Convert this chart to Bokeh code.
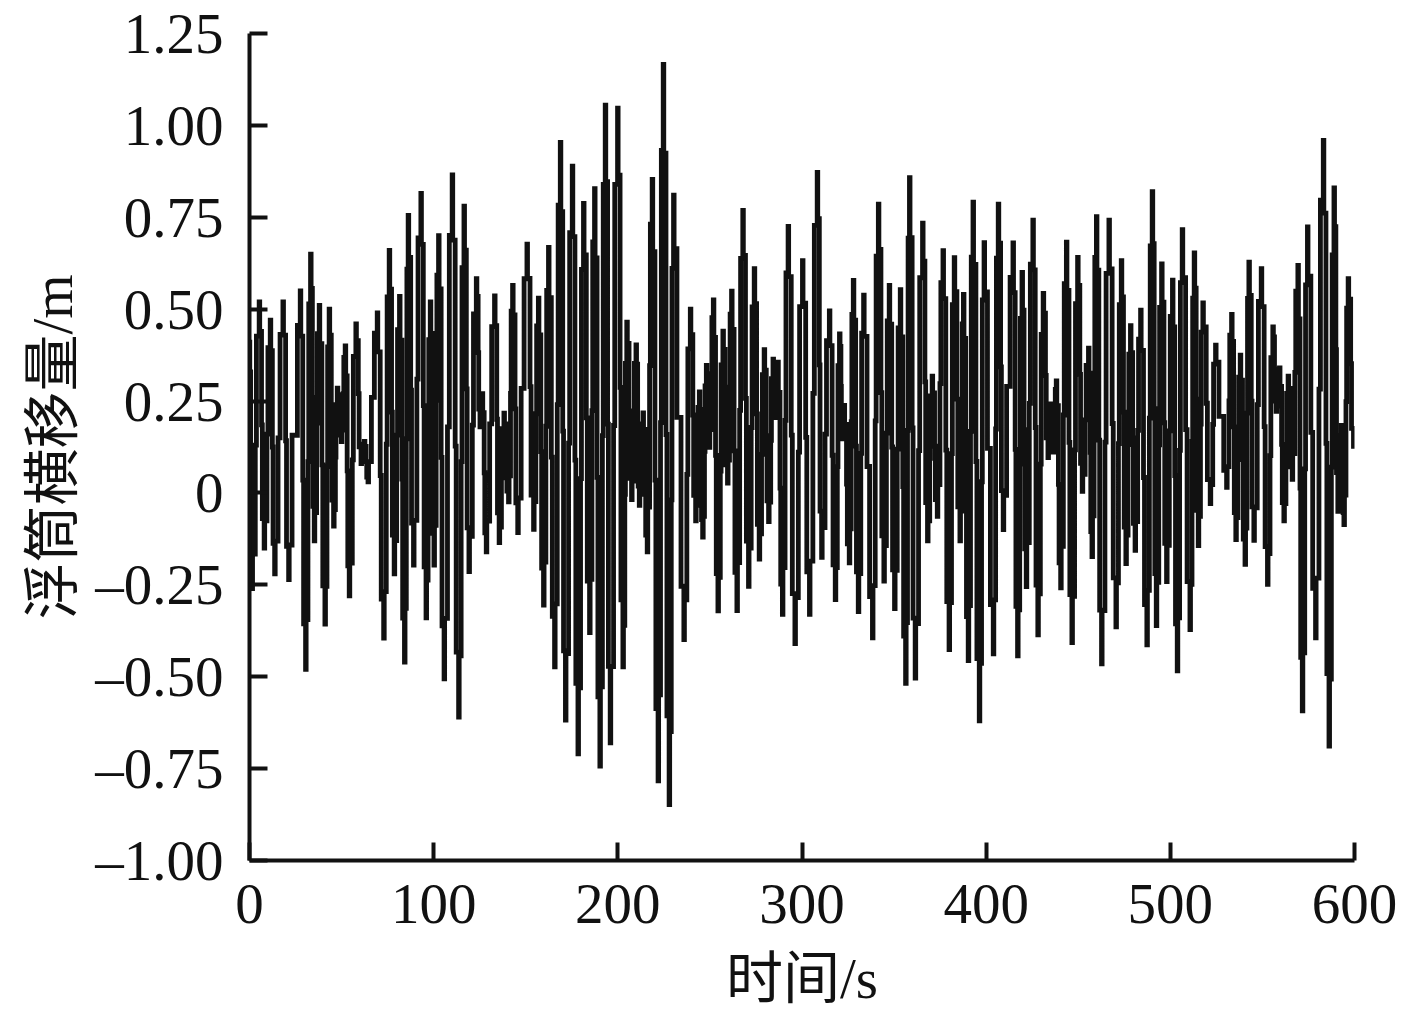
from bokeh.plotting import figure
from bokeh.models import FixedTicker
from bokeh.embed import file_html
from bokeh.resources import INLINE

# Alternating extremes of the curve
time_s = [0,1.5,5.4,8.1,11.4,13.8,18.3,21.4,27.7,30.6,33.3,35.3,38,41.1,43.4,45.8,47.8,50,52.1,54.3,57.9,60.7,62.5,64.5,69.5,
 73,76,78.7,81.6,84.3,86.3,89.2,93.2,96,98.3,100.3,102.8,105.8,110.2,113.7,116.6,119.3,123.3,125.3,126.5,128.7,133.2,135.7,138.3,140.8,143,145.8,
 150.8,154.4,157,159.8,162.5,165.8,168.9,171.7,175.4,178.5,181.5,184.8,187.5,190.4,193.3,196,200,202.9,205,207.6,210,211.8,213.8,216.1,218.8,222,224.8,228,230.4,236,
 239.5,242.4,244.4,246.2,248.2,249.8,252,254.5,257.2,259.7,261.9,264.8,268,271.1,274.2,276.9,279.6,282,284.4,285.6,287,289.5,292.6,
 296.3,300.4,304.2,308.4,310.8,315,318.2,320.5,322,323,325.8,328,330.7,333.6,338.4,341.6,344.6,347.5,350.4,353.5,356.4,358.5,361.6,365.6,368.3,370.8,373.6,376.7,380,382.8,385.9,387.8,390.4,393,396.4,399,404,406.7,409.4,414.7,417.2,419.6,421.9,425.5,428.2,431.1,433.7,435,436.6,438.2,440.6,443.7,
 446.7,449.8,452.3,455.7,457.6,460,462.8,466.8,470.6,473.5,476,478.5,481,484,487.4,490.3,492.5,495.4,498.1,501.3,503.9,506.6,510.8,513.1,515.3,517.8,521.8,524.7,530.7,533.4,535.7,538.1,540.7,542.8,545.5,549.5,552.9,555.8,557.6,559.4,561.8,564.1,566.3,569.4,571.8,574.6,579,583.2,586.3,589,591.1,593,594.4,596.7,599.6]
lateral_m = [0.41,-0.26,0.52,-0.15,0.47,-0.22,0.52,-0.236,0.55,-0.48,0.65,-0.13,0.51,-0.357,0.50,-0.09,0.285,0.14,0.40,-0.28,0.46,0.08,0.14,0.03,0.49,
 -0.395,0.66,-0.22,0.535,-0.46,0.755,-0.196,0.815,-0.34,0.52,-0.196,0.70,-0.506,0.865,-0.61,0.78,-0.214,0.583,0.18,0.27,-0.16,0.536,-0.135,0.217,-0.024,0.565,-0.108,
 0.677,-0.099,0.53,-0.305,0.668,-0.473,0.954,-0.618,0.889,-0.71,0.788,-0.38,0.828,-0.743,1.055,-0.68,1.047,-0.473,0.465,-0.018,0.403,-0.034,0.218,-0.16,0.853,-0.783,1.166,-0.848,0.81,-0.399,
 0.50,-0.076,0.275,-0.12,0.347,0.124,0.525,-0.321,0.44,0.027,0.549,-0.32,0.769,-0.254,0.61,-0.18,0.39,-0.078,0.364,0.205,0.356,-0.33,0.725,
 -0.41,0.632,-0.33,0.872,-0.175,0.495,-0.29,0.433,0.147,0.238,-0.19,0.578,-0.323,0.538,-0.394,0.786,-0.24,0.565,-0.315,0.553,-0.518,0.858,-0.504,0.734,-0.13,0.318,-0.064,0.659,-0.426,0.64,-0.13,0.54,-0.456,0.791,-0.62,0.681,-0.438,0.786,-0.10,0.68,-0.443,0.60,-0.255,0.742,-0.386,0.543,0.096,0.242,0.111,0.305,-0.258,0.682,
 -0.407,0.641,0.004,0.394,-0.173,0.752,-0.465,0.742,-0.364,0.632,-0.192,0.455,-0.156,0.497,-0.413,0.82,-0.361,0.623,-0.241,0.579,-0.484,0.716,-0.372,0.653,-0.143,0.517,-0.029,0.402,0.015,0.486,-0.127,0.375,-0.194,0.628,-0.129,0.61,-0.249,0.452,0.222,0.34,-0.076,0.318,0.037,0.619,-0.593,0.724,-0.394,0.959,-0.689,0.83,-0.05,0.184,-0.086,0.583,0.12]

x_ticks = [0, 100, 200, 300, 400, 500, 600]
y_ticks = [-1.0, -0.75, -0.5, -0.25, 0, 0.25, 0.5, 0.75, 1.0, 1.25]
y_tick_labels = ["–1.00", "–0.75", "–0.50", "–0.25", "0", "0.25", "0.50", "0.75", "1.00", "1.25"]
x_title = "时间/s"
y_title = "浮筒横移量/m"

INK = "#111111"
SERIF = "Liberation Serif, Noto Sans CJK SC"
NOTCH, EDGE, SHOULDER = 0.15, 1.7, 0.12  # drawing style of the stepped trace


def stepped(ts, vs):
    """Trace the extremes with the stepped, near-vertical strokes of the original."""
    xs, ys = [ts[0]], [vs[0]]
    for t0, v0, t1, v1 in zip(ts, vs, ts[1:], vs[1:]):
        dt = t1 - t0
        a = min(NOTCH, dt * 0.12)
        b = min(EDGE, dt * 0.42)
        s0 = v0 + SHOULDER * (v1 - v0)
        s1 = v1 - SHOULDER * (v1 - v0)
        m = (v0 + v1) / 2
        xs += [t0 + a, t0 + a, t0 + b, t0 + b, t1 - b, t1 - b, t1 - a, t1 - a]
        ys += [v0, s0, s0, m, m, s1, s1, v1]
    return xs, ys


p = figure(width=1405, height=1012, x_range=(0, 600), y_range=(-1.0, 1.25),
           toolbar_location=None, output_backend="svg",
           min_border_left=249, min_border_right=51, min_border_top=33, min_border_bottom=151)
p.outline_line_color = None
p.grid.visible = False
p.background_fill_color = "white"

xs, ys = stepped(time_s, lateral_m)
p.line(xs, ys, line_color=INK, line_width=4.8, line_join="miter")

xa, ya = p.xaxis[0], p.yaxis[0]
xa.ticker = FixedTicker(ticks=x_ticks)
ya.ticker = FixedTicker(ticks=y_ticks)
ya.major_label_overrides = {t: l for t, l in zip(y_ticks, y_tick_labels)}
xa.major_label_overrides = {t: str(t) for t in x_ticks}
for ax in (xa, ya):
    ax.axis_line_color = INK
    ax.axis_line_width = 4
    ax.major_tick_line_color = INK
    ax.major_tick_line_width = 4
    ax.major_tick_in = 18
    ax.major_tick_out = 0
    ax.minor_tick_line_color = None
    ax.major_label_text_font = "Liberation Serif"
    ax.major_label_text_font_size = "57px"
    ax.major_label_text_color = INK
    ax.axis_label_text_font = SERIF
    ax.axis_label_text_font_size = "57px"
    ax.axis_label_text_font_style = "normal"
    ax.axis_label_text_color = INK
xa.axis_label = x_title
ya.axis_label = y_title
xa.major_label_standoff = 24
ya.major_label_standoff = 26
xa.axis_label_standoff = 21
ya.axis_label_standoff = 8
ya.major_label_orientation = "horizontal"

open("out.html", "w").write(file_html(p, INLINE))
